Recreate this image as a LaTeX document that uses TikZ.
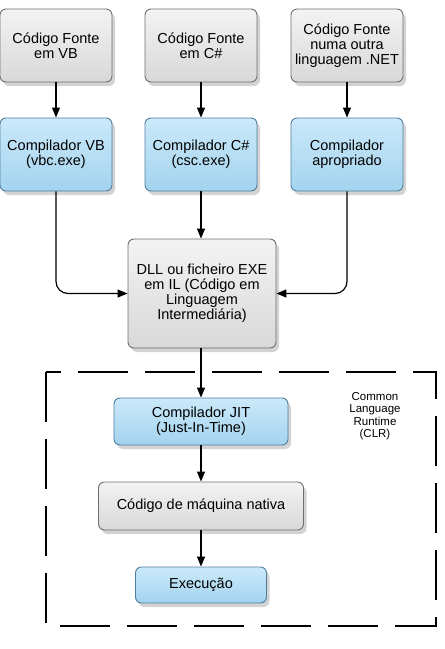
\documentclass[tikz,border=0pt]{standalone}
\usepackage{fontspec}
\setmainfont{Liberation Sans}
\usepackage{tikz}
\usetikzlibrary{arrows.meta,shadows}

\definecolor{greytop}{HTML}{F3F3F3}
\definecolor{greybot}{HTML}{D8D8D8}
\definecolor{greyline}{HTML}{6E6E6E}
\definecolor{bluetop}{HTML}{CBE9FA}
\definecolor{bluebot}{HTML}{A3D3EE}
\definecolor{blueline}{HTML}{4F7E9E}

\begin{document}
\begin{tikzpicture}[x=1pt,y=-1pt,line width=1.2pt,
  box/.style={rectangle,rounded corners=6pt,draw=greyline,line width=0.9pt,
    top color=greytop,bottom color=greybot,align=center,inner sep=1pt,
    font=\fontsize{14.5}{15}\selectfont,
    drop shadow={opacity=0.35,shadow xshift=3pt,shadow yshift=-4pt}},
  greybox/.style={box},
  bluebox/.style={box,draw=blueline,top color=bluetop,bottom color=bluebot},
  arr/.style={-{Triangle[length=10pt,width=8pt]},black}]

\useasboundingbox (0,0) rectangle (445,649);

\node [greybox,minimum width=112pt,minimum height=73pt] (srcvb) at (56,45.5) {Código Fonte\\em VB};
\node [greybox,minimum width=112pt,minimum height=73pt] (srccs) at (201,45.5) {Código Fonte\\em C\#};
\node [greybox,minimum width=112pt,minimum height=73pt] (srcnet) at (347,45.5) {Código Fonte\\numa outra\\linguagem .NET};

\node [bluebox,minimum width=112pt,minimum height=73pt] (vbc) at (56,154.5) {Compilador VB\\(vbc.exe)};
\node [bluebox,minimum width=112pt,minimum height=73pt] (csc) at (201,154.5) {Compilador C\#\\(csc.exe)};
\node [bluebox,minimum width=112pt,minimum height=73pt] (netc) at (347,154.5) {Compilador\\apropriado};

\node [greybox,minimum width=148pt,minimum height=109pt] (dll) at (202,293.5) {DLL ou ficheiro EXE\\em IL (Código em\\Linguagem\\Intermediária)};

\draw [dash pattern=on 50pt off 17pt,line width=1.3pt] (46,372) rectangle (436,626);
\node [align=center,font=\fontsize{11.5}{12.5}\selectfont] (clr) at (375,416) {Common\\Language\\Runtime\\(CLR)};

\node [bluebox,minimum width=174pt,minimum height=47pt] (jit) at (201,421.5) {Compilador JIT\\(Just-In-Time)};
\node [greybox,minimum width=205pt,minimum height=48pt] (native) at (201,506) {Código de máquina nativa};
\node [bluebox,minimum width=131pt,minimum height=36pt] (exec) at (201,585) {Execução};

\draw [arr] (srcvb) -- (vbc);
\draw [arr] (srccs) -- (csc);
\draw [arr] (srcnet) -- (netc);
\draw [arr] (csc) -- (csc |- dll.north);
\draw [arr,rounded corners=12pt] (vbc.south) |- (dll.west);
\draw [arr,rounded corners=12pt] (netc.south) |- (dll.east);
\draw [arr] (dll.south -| jit) -- (jit);
\draw [arr] (jit) -- (native);
\draw [arr] (native) -- (exec);

\end{tikzpicture}
\end{document}
